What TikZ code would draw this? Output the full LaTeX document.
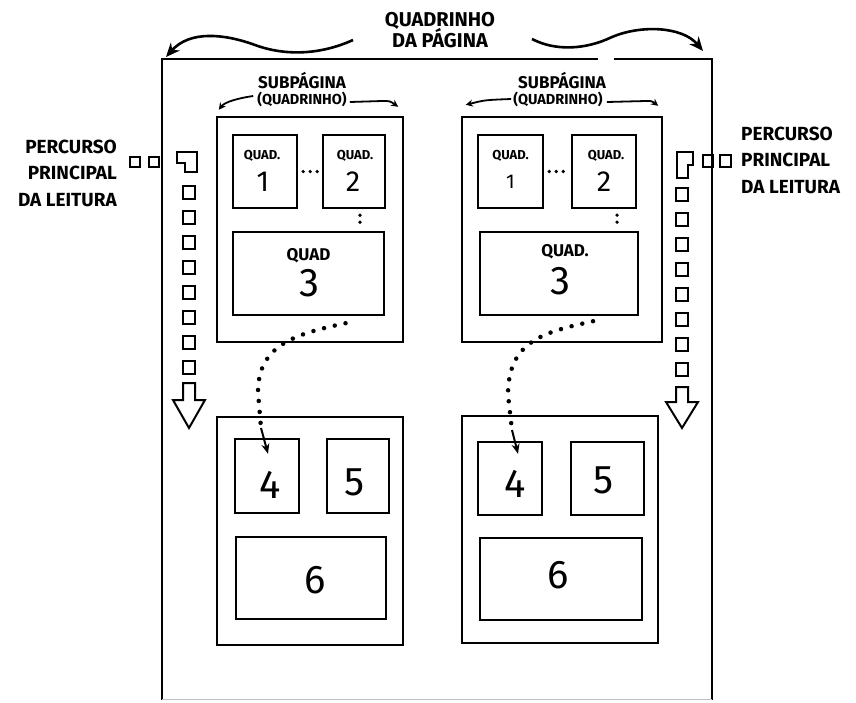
\documentclass[tikz,border=0pt]{standalone}
\usepackage{fontspec}
\setmainfont{Fira Sans}
\usetikzlibrary{arrows.meta,calc}
\tikzset{
    box/.style={draw, line width=2.4pt, inner sep=0pt},
    frame/.style={line width=2pt},
    caps/.style={font=\bfseries\fontsize{19}{26.5}\selectfont, inner sep=0pt},
    title/.style={font=\bfseries\fontsize{20}{18}\selectfont, align=center, inner sep=0pt},
    subtitle/.style={font=\bfseries\fontsize{17}{18}\selectfont, inner sep=0pt},
    subnote/.style={font=\bfseries\fontsize{14.5}{16}\selectfont, inner sep=0pt},
    quadlab/.style={font=\bfseries\fontsize{13}{14}\selectfont, inner sep=0pt},
    biglab/.style={font=\bfseries\fontsize{17}{18}\selectfont, inner sep=0pt},
    digit/.style={font=\fontsize{40}{40}\selectfont, inner sep=0pt},
    smalldigit/.style={font=\fontsize{29}{29}\selectfont, inner sep=0pt},
    wave/.style={-{Stealth[length=14pt, width=12pt]}, line width=2.6pt},
    hook/.style={-{Stealth[length=7pt, width=7pt]}, line width=1.8pt},
    dots/.style={line width=4.5pt, line cap=round, dash pattern=on 0pt off 11pt},
    tightdots/.style={line width=3.6pt, line cap=round, dash pattern=on 0pt off 7pt},
    tip/.style={-{Stealth[length=10pt, width=8pt]}, line width=2pt},
    trail/.style={line width=2pt, line join=miter},
}
\newcommand{\panel}[5]{
    \node[box, minimum width=#4pt, minimum height=#5pt] (#1) at (#2,#3) {};
}

\begin{document}
\begin{tikzpicture}[x=1pt, y=-1pt]
    \path[use as bounding box] (0,0) rectangle (856,702);

    % page frame
    \draw[frame] (162,700) -- (162,59) -- (598,59);
    \draw[frame] (614,59) -- (712,59) -- (712,700);
    \draw[black!25, line width=1pt] (162,699) -- (712,699);

    \node[title] (pagetitle) at (440,30) {QUADRINHO\\[-2pt]DA PÁGINA};
    \coordinate (pagel) at (166,57);
    \coordinate (pager) at (703,51);
    \draw[wave] (353,40) .. controls (320,55) and (285,56) .. (255,45)
        .. controls (225,34) and (190,30) .. (pagel);
    \draw[wave] (532,39) .. controls (555,51) and (585,50) .. (612,37)
        .. controls (640,25) and (682,26) .. (pager);

    % subpages
    \panel{lsub}{310}{229.5}{186}{225}
    \panel{rsub}{562}{229.5}{200}{225}
    \panel{lbot}{310}{531}{186}{228}
    \panel{rbot}{560}{529.5}{196}{227}

    \node[subtitle] (lsubt) at (302,81) {SUBPÁGINA};
    \node[subnote] (lsubq) at (302,99) {(QUADRINHO)};
    \node[subtitle] (rsubt) at (562,81) {SUBPÁGINA};
    \node[subnote] (rsubq) at (558,99) {(QUADRINHO)};
    \draw[hook] ($(lsubq.west)+(-4,-3)$) .. controls +(-14,2) and +(6,-8) .. ($(lsub.north west)+(3,-6)$);
    \draw[hook] ($(lsubq.east)+(3,3)$) -- (382,101) .. controls (390,101) .. ($(lsub.north east)+(-6,-9)$);
    \draw[hook] ($(rsubq.west)+(-2,0)$) .. controls (485,100) .. ($(rsub.north west)+(5,-11)$);
    \draw[hook] ($(rsubq.east)+(4,3)$) -- (646,101) .. controls (652,101) .. ($(rsub.north east)+(-5,-10)$);

    % panels inside the subpages
    \panel{lq1}{265}{171.5}{64}{73}
    \panel{lq2}{354}{171.5}{62}{73}
    \panel{lq3}{308.5}{273.5}{151}{83}
    \panel{rq1}{510.5}{171.5}{65}{73}
    \panel{rq2}{604}{171.5}{64}{73}
    \panel{rq3}{559}{273.5}{158}{83}
    \panel{lq4}{267}{476}{64}{74}
    \panel{lq5}{358}{476}{62}{74}
    \panel{lq6}{311}{578}{150}{82}
    \panel{rq4}{510}{478.5}{64}{73}
    \panel{rq5}{607.5}{478.5}{73}{73}
    \panel{rq6}{561}{579}{162}{82}

    \node[quadlab] (lq1t) at ($(lq1.north)+(-3,22)$) {QUAD.};
    \node[smalldigit] (lq1n) at ($(lq1.north)+(-2,48)$) {1};
    \node[quadlab] (lq2t) at ($(lq2.north)+(1,22)$) {QUAD.};
    \node[smalldigit] (lq2n) at ($(lq2.north)+(-1,48)$) {2};
    \node[biglab] (lq3t) at ($(lq3.north)+(0,25)$) {QUAD};
    \node[digit] (lq3n) at ($(lq3.north)+(1,52)$) {3};
    \node[quadlab] (rq1t) at ($(rq1.north)+(0,22)$) {QUAD.};
    \node[font=\fontsize{20}{20}\selectfont, inner sep=0pt] (rq1n) at ($(rq1.north)+(0,48)$) {1};
    \node[quadlab] (rq2t) at ($(rq2.north)+(2,22)$) {QUAD.};
    \node[smalldigit] (rq2n) at ($(rq2.north)+(0,48)$) {2};
    \node[biglab] (rq3t) at ($(rq3.north)+(6,21)$) {QUAD.};
    \node[digit] (rq3n) at ($(rq3.north)+(1,50)$) {3};
    \node[digit] (lq4n) at ($(lq4)+(3,9)$) {4};
    \node[digit] (lq5n) at ($(lq5)+(-3,6)$) {5};
    \node[digit] (lq6n) at ($(lq6)+(4,2)$) {6};
    \node[digit] (rq4n) at ($(rq4)+(5,5)$) {4};
    \node[digit] (rq5n) at ($(rq5)+(-4,2)$) {5};
    \node[digit] (rq6n) at ($(rq6)+(-3,-4)$) {6};

    % reading order inside the subpages
    \draw[tightdots, shorten <=5pt, shorten >=3pt] (lq1.east) -- (lq2.west);
    \draw[tightdots, shorten <=6pt, shorten >=3pt] ($(lq2.south)+(6,0)$) -- ($(lq3.north)+(51.5,0)$);
    \draw[tightdots, shorten <=5pt, shorten >=3pt] (rq1.east) -- (rq2.west);
    \draw[tightdots, shorten <=6pt, shorten >=3pt] ($(rq2.south)+(13,0)$) -- ($(rq3.north)+(58,0)$);

    \coordinate (lbend) at (258,392);
    \coordinate (lend) at (261,428);
    \draw[dots] ($(lq3.south)+(37,7)$) .. controls (295,334) and (258,345) .. (lbend) -- (lend);
    \draw[tip] (lend) -- ($(lq4.north)+(1,16)$);
    \coordinate (rbend) at (508,395);
    \coordinate (rend) at (512,430);
    \draw[dots] ($(rq3.south)+(34,5)$) .. controls (545,332) and (508,340) .. (rbend) -- (rend);
    \draw[tip] (rend) -- ($(rq4.north)+(8,13)$);

    % main reading path, left
    \node[caps, align=right, anchor=east] (leftpath) at (117,173) {PERCURSO\\PRINCIPAL\\DA LEITURA};
    \draw[trail] (130,157) rectangle (140,167);
    \draw[trail] (149,157) rectangle (159,167);
    \draw[trail] (177,152) -- (197,152) -- (197,172) -- (185,172) -- (185,163) -- (177,163) -- cycle;
    \foreach \y in {192,217,...,367}
        \draw[trail] (183,\y-6.5) rectangle (195,\y+6.5);
    \draw[trail] (183,383) -- (195,383) -- (195,400) -- (205,400) -- (189,428)
        -- (173,400) -- (183,400) -- cycle;

    % main reading path, right
    \node[caps, align=left, anchor=west] (rightpath) at (741,160) {PERCURSO\\PRINCIPAL\\DA LEITURA};
    \draw[trail] (703,155) rectangle (713,167);
    \draw[trail] (720,155) rectangle (731,167);
    \draw[trail] (677,152) -- (693,152) -- (693,165) -- (688,165) -- (688,178) -- (677,178) -- cycle;
    \foreach \y in {194,219,...,369}
        \draw[trail] (676,\y-6.5) rectangle (688,\y+6.5);
    \draw[trail] (676,387) -- (688,387) -- (688,402) -- (698,402) -- (682,428)
        -- (666,402) -- (676,402) -- cycle;

\end{tikzpicture}
\end{document}
